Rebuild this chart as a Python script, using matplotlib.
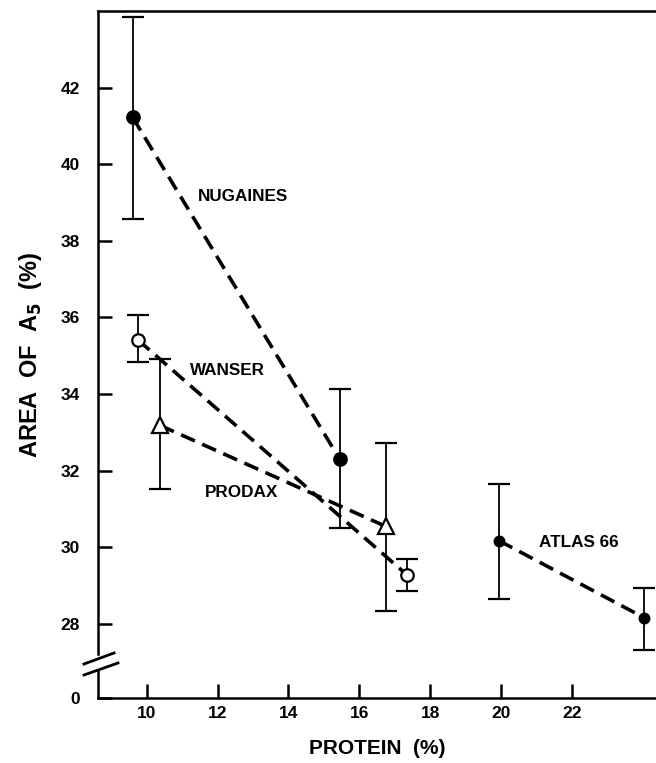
import numpy as np
import matplotlib
matplotlib.use("Agg")
import matplotlib.pyplot as plt
from matplotlib.lines import Line2D

plt.rcParams['font.family'] = ['Liberation Sans', 'DejaVu Sans']
plt.rcParams['font.weight'] = 'bold'

# data (protein %, area of A5 %, error bar low/high)
nug_x = [9.60, 15.45]
nug_y = [41.22, 32.29]
nug_lo = [38.58, 30.49]
nug_hi = [43.84, 34.13]

wan_x = [9.75, 17.34]
wan_y = [35.41, 29.28]
wan_lo = [34.83, 28.86]
wan_hi = [36.06, 29.68]

pro_x = [10.37, 16.75]
pro_y = [33.18, 30.54]
pro_lo = [31.51, 28.34]
pro_hi = [34.91, 32.71]

atl_x = [19.94, 24.04]
atl_y = [30.17, 28.16]
atl_lo = [28.65, 27.32]
atl_hi = [31.66, 28.92]

labels = ["NUGAINES", "WANSER", "PRODAX", "ATLAS 66"]
label_pos = [(12.71, 39.15), (12.29, 34.62), (12.66, 31.43), (22.20, 30.12)]

xticks = [10, 12, 14, 16, 18, 20, 22]
yticks = [28, 30, 32, 34, 36, 38, 40, 42]
y_floor = 26.06  # where the broken axis shows "0"

fig = plt.figure(figsize=(6.56, 7.63), dpi=100)
ax = fig.add_axes([98/656, 65/763, 558/656, 687/763])
ax.set_xlim(8.62, 24.38)
ax.set_ylim(y_floor, 44.0)

dash = (4.2, 2.2)

def series(x, y, lo, hi, marker, ms, face):
    y = np.array(y)
    err = [y - np.array(lo), np.array(hi) - y]
    ax.errorbar(x, y, yerr=err, fmt='none', ecolor='black', elinewidth=1.3,
                capsize=8, capthick=1.6, zorder=2)
    ax.plot(x, y, color='black', lw=2.6, dashes=dash, zorder=3)
    ax.plot(x, y, linestyle='none', marker=marker, ms=ms, mfc=face,
            mec='black', mew=1.6, zorder=4)

series(nug_x, nug_y, nug_lo, nug_hi, 'o', 9, 'black')
series(wan_x, wan_y, wan_lo, wan_hi, 'o', 9, 'white')
series(pro_x, pro_y, pro_lo, pro_hi, '^', 12, 'white')
series(atl_x, atl_y, atl_lo, atl_hi, 'o', 7, 'black')

for txt, (lx, ly) in zip(labels, label_pos):
    ax.text(lx, ly, txt, fontsize=12.3, fontweight='bold', ha='center', va='center')

ax.set_xticks(xticks)
ax.set_xticklabels([str(t) for t in xticks], fontweight='bold')
ax.set_yticks([y_floor] + yticks)
ax.set_yticklabels(["0"] + [str(t) for t in yticks], fontweight='bold')
ax.tick_params(axis='both', direction='in', length=10, width=1.8, labelsize=12.5)
ax.tick_params(axis='y', pad=13)
ax.tick_params(axis='x', pad=6)

for s in ['left', 'bottom', 'top']:
    ax.spines[s].set_linewidth(1.8)
ax.spines['right'].set_visible(False)

ax.set_xlabel("PROTEIN  (%)", fontsize=15, fontweight='bold', labelpad=13)
ax.set_ylabel(r"AREA  OF  A$_{\mathbf{5}}$  (%)", fontsize=17, fontweight='bold', labelpad=12)

# axis break on the left spine
H = 763
def fy(py):
    return 1 - py / H
def fx(px):
    return px / 656
fig.add_artist(plt.Rectangle((fx(95), fy(668)), fx(6), fy(656) - fy(668),
                             color='white', transform=fig.transFigure, zorder=5))
for (x0, y0, x1, y1) in [(84, 664, 114, 653), (84, 675, 118, 663)]:
    fig.add_artist(Line2D([fx(x0), fx(x1)], [fy(y0), fy(y1)], color='black',
                          lw=2.0, transform=fig.transFigure, zorder=6))

fig.savefig("out.png", dpi=100)
